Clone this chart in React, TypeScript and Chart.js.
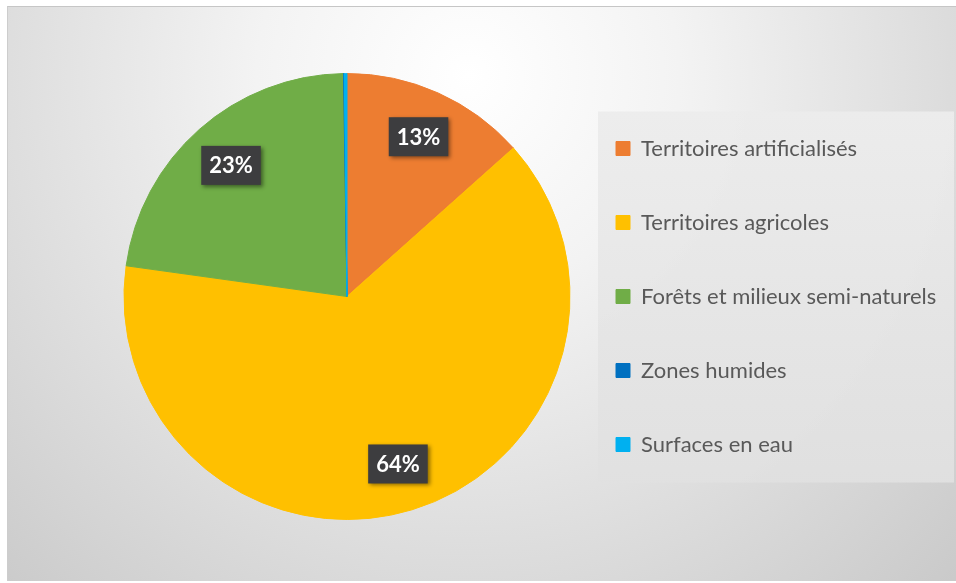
import React, { useEffect, useRef } from "react";
import { Chart, registerables } from "chart.js";

Chart.register(...registerables);

const categories = [
  "Territoires artificialisés",
  "Territoires agricoles",
  "Forêts et milieux semi-naturels",
  "Zones humides",
  "Surfaces en eau",
];
const shares = [13.4, 63.8, 22.55, 0.05, 0.2];
const sliceColors = ["#ED7D31", "#FFC000", "#70AD47", "#0070C0", "#00B0F0"];

const legendBackdrop = {
  id: "legendBackdrop",
  beforeDraw(chart: any) {
    const lg = chart.legend;
    if (!lg || !lg.legendHitBoxes || !lg.legendHitBoxes.length) return;
    const hb = lg.legendHitBoxes;
    const first = hb[0];
    const last = hb[hb.length - 1];
    const left = first.left - 18;
    const top = first.top - 26;
    const bottom = last.top + last.height + 27;
    const ctx = chart.ctx;
    ctx.save();
    const g = ctx.createLinearGradient(0, top, 0, bottom);
    g.addColorStop(0, "rgba(236,236,236,0.95)");
    g.addColorStop(1, "rgba(224,224,224,0.95)");
    ctx.fillStyle = g;
    ctx.fillRect(left, top, chart.width - left - 2, bottom - top);
    ctx.restore();
  },
};

const pctLabels = {
  id: "pctLabels",
  afterDatasetsDraw(chart: any) {
    const ctx = chart.ctx;
    const meta = chart.getDatasetMeta(0);
    const data = chart.data.datasets[0].data as number[];
    const total = data.reduce((a, b) => a + b, 0);
    meta.data.forEach((arc: any, i: number) => {
      const pct = (data[i] / total) * 100;
      if (pct < 1) return;
      const { x, y, startAngle, endAngle, outerRadius } = arc.getProps(
        ["x", "y", "startAngle", "endAngle", "outerRadius"],
        true
      );
      const mid = (startAngle + endAngle) / 2;
      const r = outerRadius * 0.785;
      const cx = x + Math.cos(mid) * r;
      const cy = y + Math.sin(mid) * r;
      const text = Math.round(pct) + "%";
      ctx.save();
      ctx.font = "bold 22px Lato";
      const w = ctx.measureText(text).width + 16;
      const h = 39;
      ctx.shadowColor = "rgba(0,0,0,0.45)";
      ctx.shadowBlur = 4;
      ctx.shadowOffsetX = 2;
      ctx.shadowOffsetY = 2;
      ctx.fillStyle = "#3d3d3f";
      ctx.fillRect(cx - w / 2, cy - h / 2, w, h);
      ctx.shadowColor = "transparent";
      ctx.fillStyle = "#ffffff";
      ctx.textAlign = "center";
      ctx.textBaseline = "middle";
      ctx.fillText(text, cx, cy + 1);
      ctx.restore();
    });
  },
};

export default function App() {
  const ref = useRef<HTMLCanvasElement | null>(null);

  useEffect(() => {
    if (!ref.current) return;
    const chart = new Chart(ref.current, {
      type: "pie",
      data: {
        labels: categories,
        datasets: [
          {
            data: shares,
            backgroundColor: sliceColors,
            borderColor: sliceColors,
            borderWidth: 1,
            radius: 223,
            clip: false as any,
          } as any,
        ],
      },
      options: {
        responsive: false,
        animation: false,
        layout: { padding: { left: 130, right: 14, top: 40, bottom: 30 } },
        plugins: {
          tooltip: { enabled: false },
          legend: {
            position: "right",
            align: "center",
            maxWidth: 378,
            labels: {
              boxWidth: 14,
              boxHeight: 14,
              padding: 52,
              color: "#595959",
              font: { family: "Lato", size: 22 },
            },
          },
        },
      },
      plugins: [legendBackdrop, pctLabels],
    });
    return () => chart.destroy();
  }, []);

  return (
    <div
      style={{
        position: "absolute",
        left: 0,
        top: 0,
        width: 956,
        height: 583,
        background: "#ffffff",
        overflow: "hidden",
      }}
    >
      <div
        style={{
          position: "absolute",
          left: 7,
          top: 6,
          width: 960,
          height: 575,
          boxSizing: "border-box",
          borderTop: "1px solid #c6c6c6",
          borderLeft: "1px solid #cdcdcd",
          background:
            "radial-gradient(ellipse farthest-corner at 48% 12%, #ffffff 0%, #f3f3f3 30%, #dedede 65%, #c9c9c9 100%)",
        }}
      />
      <canvas
        ref={ref}
        width={956}
        height={583}
        style={{ position: "absolute", left: 0, top: 0 }}
      />
    </div>
  );
}
